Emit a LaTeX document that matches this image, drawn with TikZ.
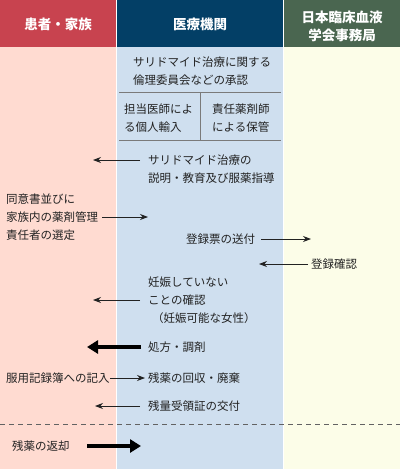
\documentclass[tikz,border=0pt]{standalone}
\usepackage{fontspec}
\setmainfont{Noto Sans CJK JP}
\usetikzlibrary{arrows.meta}
\definecolor{hred}{HTML}{C8434F}
\definecolor{hnavy}{HTML}{033F66}
\definecolor{hgreen}{HTML}{4A6650}
\definecolor{bpink}{HTML}{FFDBD1}
\definecolor{bblue}{HTML}{CFDFEF}
\definecolor{byellow}{HTML}{FCFDE8}
\definecolor{txt}{HTML}{222222}
\definecolor{rule}{HTML}{7A7A7A}
\tikzset{
  hdr/.style={text=white,font=\fontsize{13.5}{18}\selectfont\bfseries,align=center,inner sep=0},
  lbl/.style={text=txt,font=\fontsize{11.5}{18}\selectfont,align=left,inner sep=0,anchor=west},
  thin/.style={draw=txt,line width=0.8pt,-{Stealth[length=8pt,width=6pt]}},
  thick/.style={draw=black,line width=4pt,-{Triangle[length=11pt,width=13pt]}},
  boxline/.style={draw=rule,line width=1pt},
}
\begin{document}
\begin{tikzpicture}[x=1pt,y=-1pt]
\useasboundingbox (0,0) rectangle (400,469);
% column backgrounds
\fill[bpink] (0,47) rectangle (116,469);
\fill[bblue] (117,47) rectangle (283,469);
\fill[byellow] (284,47) rectangle (400,469);
\fill[hred] (0,0) rectangle (116,47);
\fill[hnavy] (117,0) rectangle (283,47);
\fill[hgreen] (284,0) rectangle (400,47);
% headers
\node[hdr] (h1) at (58,24) {患者・家族};
\node[hdr] (h2) at (200,24) {医療機関};
\node[hdr] (h3) at (342,26) {日本臨床血液\\学会事務局};
% approval box
\node[lbl] (appr) at (133,71) {サリドマイド治療に関する\\倫理委員会などの承認};
\draw[boxline] (119,92) -- (281,92);
\draw[boxline] (119,140) -- (281,140);
\draw[boxline] (200,92) -- (200,140);
\node[lbl] (imp) at (124,118) {担当医師によ\\る個人輸入};
\node[lbl] (keep) at (212,118) {責任薬剤師\\による保管};
% explanation
\node[lbl] (expl) at (148,169) {サリドマイド治療の\\説明・教育及び服薬指導};
\coordinate (e1s) at (140,160);
\coordinate (e1e) at (93,160);
\draw[thin] (e1s) -- (e1e);
% consent
\node[lbl] (cons) at (6,217.5) {同意書並びに\\家族内の薬剤管理\\責任者の選定};
\coordinate (c1e) at (148,217);
\draw[thin] (cons.east |- c1e) ++(4,0) coordinate (c1s) -- (c1e);
% registration
\node[lbl] (reg) at (186,239) {登録票の送付};
\coordinate (r1e) at (311,239);
\draw[thin] ([xshift=6pt]reg.east) -- (r1e);
\node[lbl] (conf) at (311,264) {登録確認};
\coordinate (r2e) at (259,264);
\draw[thin] ([xshift=-3pt]conf.west) -- (r2e);
% pregnancy check
\node[lbl] (preg) at (148,291.5) {妊娠していない\\ことの確認};
\node[lbl] (preg2) at (152,318) {（妊娠可能な女性）};
\coordinate (p1s) at (140,300);
\coordinate (p1e) at (93,300);
\draw[thin] (p1s) -- (p1e);
% prescription
\node[lbl] (presc) at (148,347) {処方・調剤};
\coordinate (ps) at (141,347);
\coordinate (pe) at (87,347);
\draw[thick] (ps) -- (pe);
% record / collection
\node[lbl] (rec) at (6,378) {服用記録簿への記入};
\node[lbl] (coll) at (148,378) {残薬の回収・廃棄};
\draw[thin] (rec.east) -- ([xshift=-3pt]coll.west);
% receipt
\node[lbl] (rcpt) at (148,406) {残量受領証の交付};
\coordinate (q1e) at (95,406);
\draw[thin] ([xshift=-8pt]rcpt.west) -- (q1e);
% dashed line
\coordinate (dl) at (0,424);
\coordinate (dr) at (400,424);
\draw[draw=rule!80!black,line width=1pt,dash pattern=on 5pt off 4pt] (dl) -- (dr);
% return
\node[lbl] (ret) at (12,446) {残薬の返却};
\coordinate (t1e) at (141,446);
\draw[thick] (87,446) coordinate (t1s) -- (t1e);
\end{tikzpicture}
\end{document}
